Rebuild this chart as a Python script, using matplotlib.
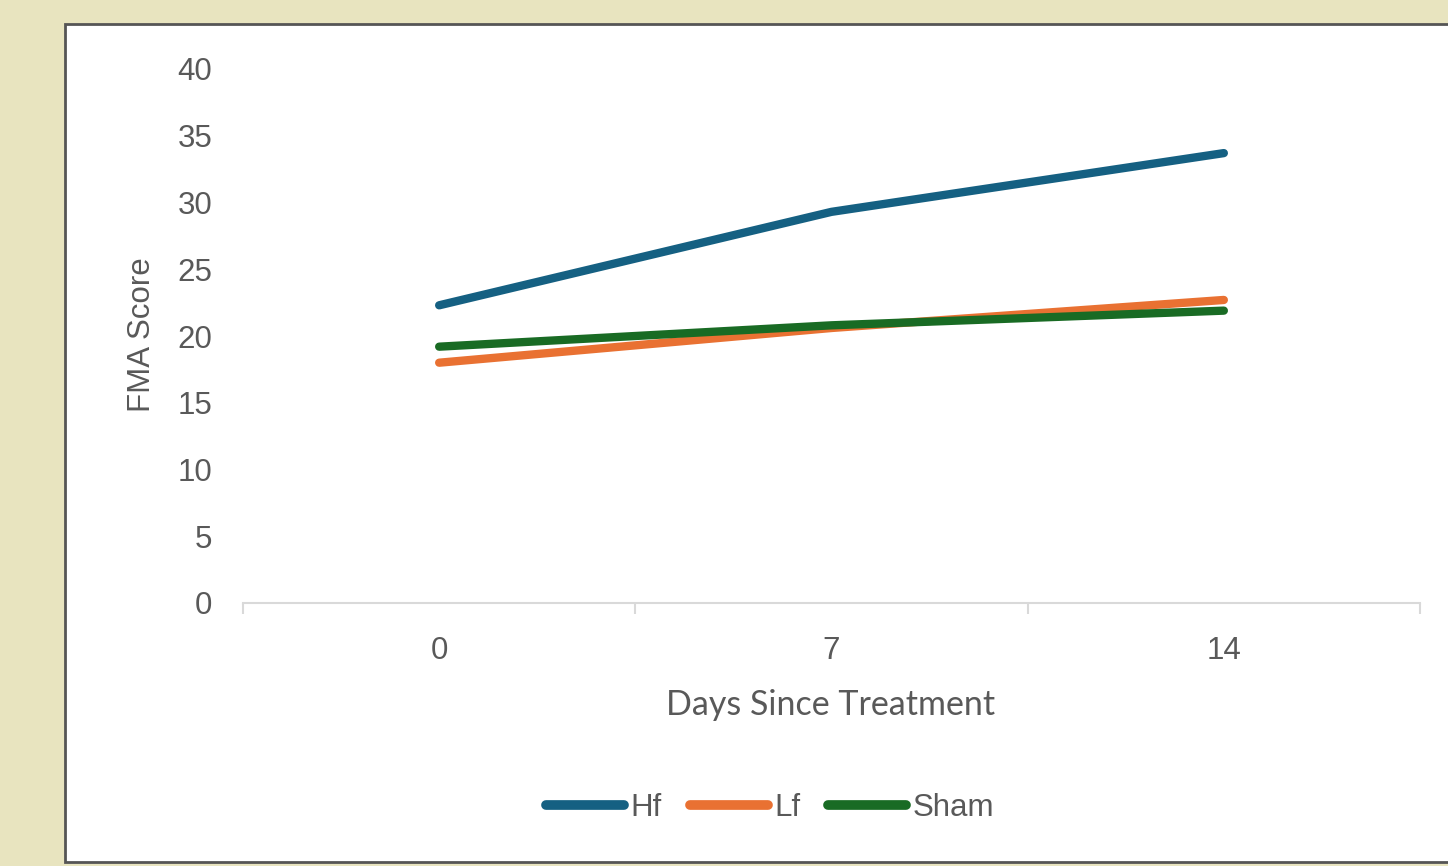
import matplotlib
matplotlib.use("Agg")
import matplotlib.pyplot as plt
from matplotlib.patches import Rectangle

# FMA scores by group over time
days = ["0", "7", "14"]
hf = [22.3, 29.3, 33.7]
lf = [18.0, 20.6, 22.7]
sham = [19.2, 20.8, 21.9]

series_names = ["Hf", "Lf", "Sham"]
colors = ["#156082", "#E97132", "#196B24"]
y_ticks = [0, 5, 10, 15, 20, 25, 30, 35, 40]

W, H = 1448, 866
fig = plt.figure(figsize=(W / 100, H / 100), dpi=100)
fig.patch.set_facecolor("#E8E4BF")

# white chart panel with dark border (runs off the right edge)
panel = Rectangle((65 / W, 1 - 862 / H), (W + 10 - 65) / W, (862 - 24) / H,
                  transform=fig.transFigure, facecolor="white",
                  edgecolor="#555555", linewidth=2, zorder=-5)
fig.patches.append(panel)

left, right = 243 / W, 1420 / W
bottom, top = 1 - 603 / H, 1 - 69 / H
ax = fig.add_axes([left, bottom, right - left, top - bottom], zorder=2)
ax.set_facecolor("none")

x = list(range(len(days)))
for vals, name, c in zip([hf, lf, sham], series_names, colors):
    ax.plot(x, vals, color=c, linewidth=6.0, solid_capstyle="round",
            solid_joinstyle="round", label=name)

ax.set_xlim(-0.5, len(days) - 0.5)
ax.set_ylim(0, 40)

text_color = "#595959"
tick_font = "Liberation Sans"
fs = 22.5

ax.set_yticks(y_ticks)
ax.set_yticklabels([str(v) for v in y_ticks], fontsize=fs,
                   color=text_color, family=tick_font)
ax.tick_params(axis="y", length=0, pad=22)

# category ticks sit at the boundaries between categories
ax.set_xticks([i - 0.5 for i in range(len(days) + 1)])
ax.set_xticklabels([""] * (len(days) + 1))
ax.set_xticks(x, minor=True)
ax.set_xticklabels(days, minor=True, fontsize=fs, color=text_color,
                   family=tick_font)
ax.tick_params(axis="x", which="major", length=8, width=1.5,
               color="#D9D9D9", direction="out")
ax.tick_params(axis="x", which="minor", length=0, pad=24)

for s in ["top", "right", "left"]:
    ax.spines[s].set_visible(False)
ax.spines["bottom"].set_color("#D9D9D9")
ax.spines["bottom"].set_linewidth(1.5)

fig.text(142 / W, 1 - 335 / H, "FMA Score", rotation=90, ha="center",
         va="center", fontsize=fs, color=text_color, family=tick_font)
fig.text(831 / W, 1 - 705 / H, "Days Since Treatment", ha="center",
         va="center", fontsize=24.5, color=text_color, family="Lato")

leg = fig.legend(loc="center", bbox_to_anchor=(770 / W, 1 - 808 / H),
                 ncol=3, frameon=False, handlelength=2.5,
                 handletextpad=0.2, columnspacing=0.9,
                 prop={"family": tick_font, "size": fs})
for t in leg.get_texts():
    t.set_color(text_color)
for ln in leg.get_lines():
    ln.set_linewidth(7)

fig.savefig("out.png", dpi=100, facecolor=fig.get_facecolor())
